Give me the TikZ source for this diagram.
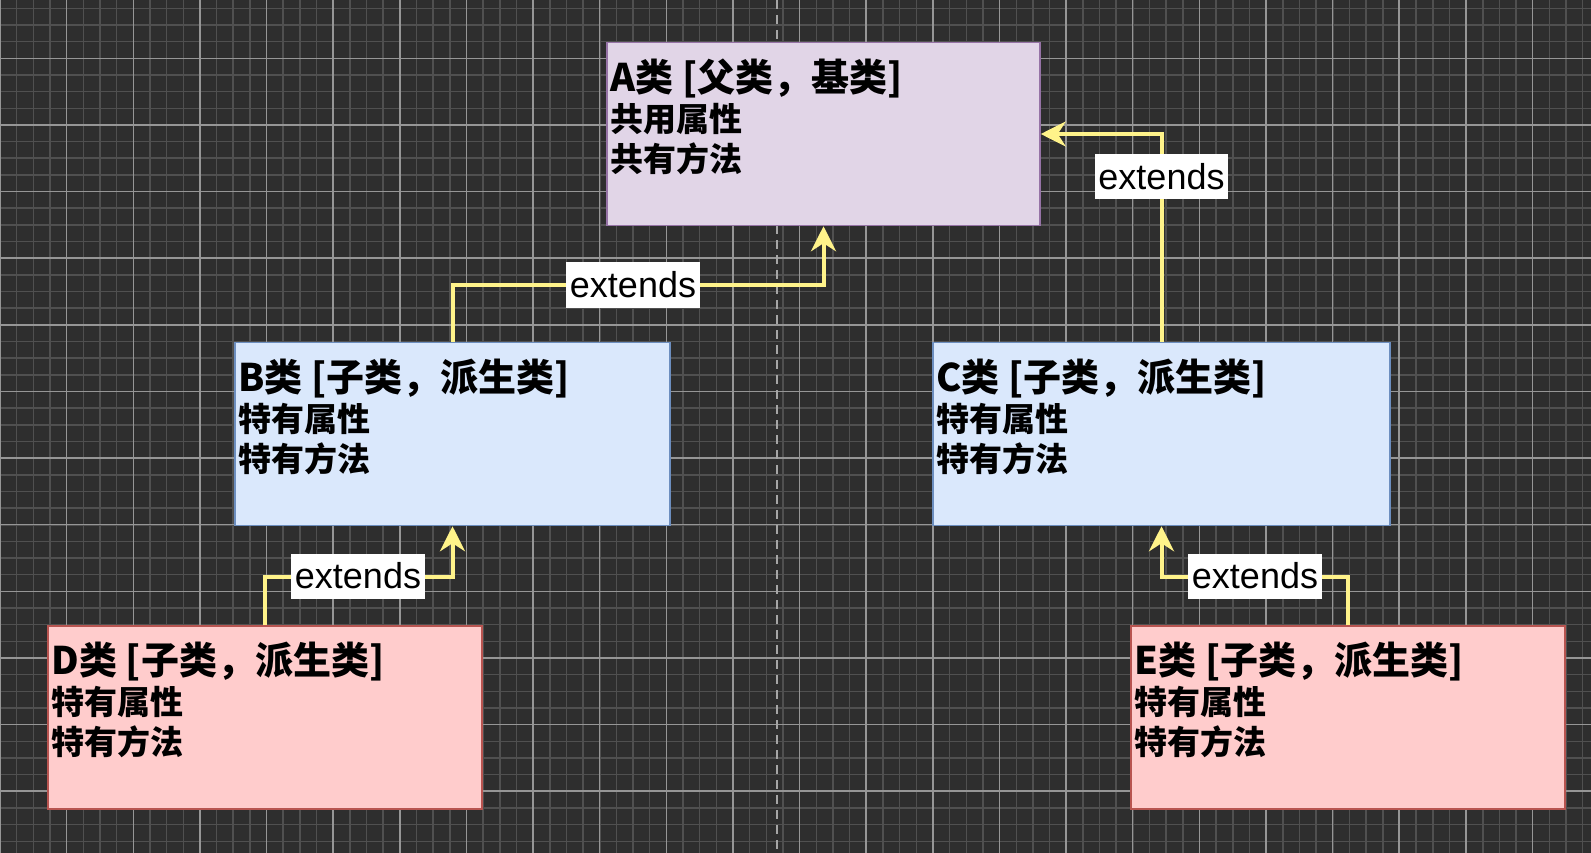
\documentclass[tikz,border=0pt]{standalone}
\usepackage{fontspec}
\newfontfamily\cjk{Noto Sans CJK SC}
\setsansfont{Liberation Sans}
\usetikzlibrary{arrows.meta}

\definecolor{canvas}{RGB}{46,46,46}
\definecolor{gridminor}{RGB}{80,80,80}
\definecolor{gridmajor}{RGB}{150,150,150}
\definecolor{parentfill}{RGB}{225,213,231}
\definecolor{parentline}{RGB}{150,115,166}
\definecolor{childfill}{RGB}{218,232,252}
\definecolor{childline}{RGB}{108,142,191}
\definecolor{leaffill}{RGB}{255,204,204}
\definecolor{leafline}{RGB}{184,84,80}
\definecolor{extyellow}{RGB}{255,243,138}

\tikzset{
  classbox/.style={draw, line width=1.5pt, inner sep=0pt, minimum height=183pt},
  parentbox/.style={classbox, fill=parentfill, draw=parentline},
  childbox/.style={classbox, fill=childfill, draw=childline},
  leafbox/.style={classbox, fill=leaffill, draw=leafline},
  classtext/.style={anchor=north west, inner sep=0pt, align=left, font=\cjk\bfseries\fontsize{33}{40}\selectfont},
  ext/.style={draw=extyellow, line width=4pt, -{Stealth[length=25pt,width=25pt,inset=8pt]}},
  extlabel/.style={fill=white, text=black, inner xsep=3.5pt, inner ysep=0pt, minimum height=45pt, font=\sffamily\fontsize{36}{40}\selectfont}
}

\begin{document}
\begin{tikzpicture}[x=1pt,y=-1pt]
\useasboundingbox (0,0) rectangle (1591,853);
\fill[canvas] (0,0) rectangle (1591,853);
\foreach \i in {0,...,95} \draw[gridminor, line width=1.5pt] (\i*16.66,0) -- (\i*16.66,853);
\foreach \j in {0,...,51} \draw[gridminor, line width=1.5pt] (0,8.3+\j*16.66) -- (1591,8.3+\j*16.66);
\foreach \i in {0,...,23} \draw[gridmajor, line width=1.5pt] (\i*66.63,0) -- (\i*66.63,853);
\foreach \j in {0,...,11} \draw[gridmajor, line width=1.5pt] (0,58.3+\j*66.63) -- (1591,58.3+\j*66.63);
\draw[gray!70, line width=2pt, dash pattern=on 9pt off 6pt] (777,0) -- (777,853);

\node[parentbox, minimum width=433pt] (A) at (823.5,134) {};
\node[childbox, minimum width=435pt] (B) at (452.5,434) {};
\node[childbox, minimum width=457pt] (C) at (1161.5,434) {};
\node[leafbox, minimum width=434pt] (D) at (265,717.5) {};
\node[leafbox, minimum width=434pt] (E) at (1348,717.5) {};

\node[classtext] (A-text) at ([xshift=4pt,yshift=-17pt]A.north west) {{\fontsize{38}{40}\selectfont A类 [父类，基类]}\\共用属性\\共有方法};
\node[classtext] (B-text) at ([xshift=4pt,yshift=-17pt]B.north west) {{\fontsize{38}{40}\selectfont B类 [子类，派生类]}\\特有属性\\特有方法};
\node[classtext] (C-text) at ([xshift=4pt,yshift=-17pt]C.north west) {{\fontsize{38}{40}\selectfont C类 [子类，派生类]}\\特有属性\\特有方法};
\node[classtext] (D-text) at ([xshift=4pt,yshift=-17pt]D.north west) {{\fontsize{38}{40}\selectfont D类 [子类，派生类]}\\特有属性\\特有方法};
\node[classtext] (E-text) at ([xshift=4pt,yshift=-17pt]E.north west) {{\fontsize{38}{40}\selectfont E类 [子类，派生类]}\\特有属性\\特有方法};

\coordinate (ba) at (0,285);
\draw[ext] (B.north) |- (ba -| A.south) -- (A.south);
\node[extlabel] (ba-label) at (633,285) {extends};
\draw[ext] (C.north) |- (A.east);
\node[extlabel] (ca-label) at (1161.5,177) {extends};
\coordinate (db) at (0,577);
\draw[ext] (D.north) |- (db -| B.south) -- (B.south);
\node[extlabel] (db-label) at (358,576) {extends};
\draw[ext] (E.north) |- (db -| C.south) -- (C.south);
\node[extlabel] (ec-label) at (1255,576) {extends};
\end{tikzpicture}
\end{document}
